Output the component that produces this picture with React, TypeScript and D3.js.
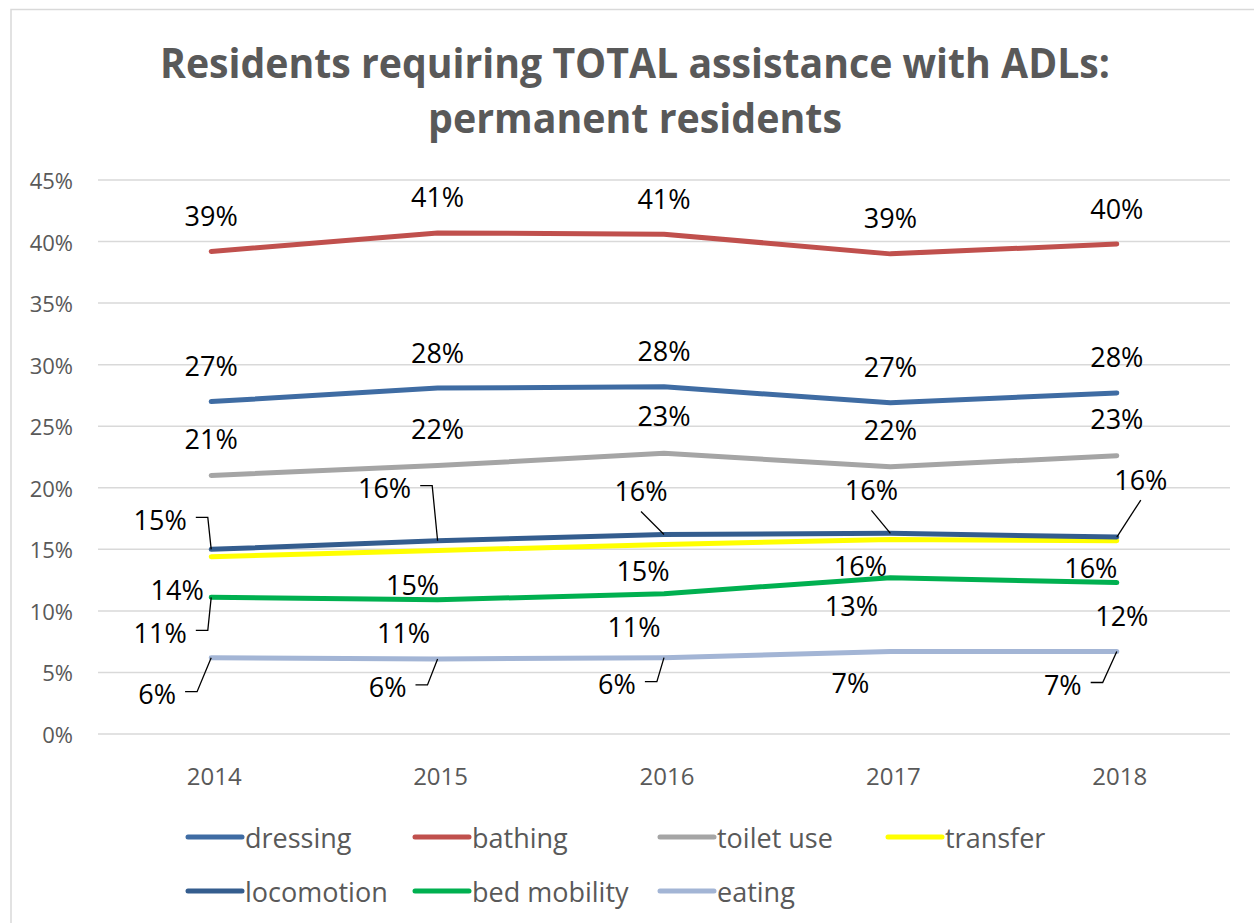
import React, { useEffect, useRef } from "react";
import * as d3 from "d3";

const years = ["2014", "2015", "2016", "2017", "2018"];
const dressing = [27.0, 28.1, 28.2, 26.9, 27.7];
const bathing = [39.2, 40.7, 40.6, 39.0, 39.8];
const toiletUse = [21.0, 21.8, 22.8, 21.7, 22.6];
const transfer = [14.4, 14.9, 15.4, 15.8, 15.7];
const locomotion = [15.0, 15.7, 16.2, 16.3, 16.0];
const bedMobility = [11.1, 10.9, 11.4, 12.7, 12.3];
const eating = [6.2, 6.1, 6.2, 6.7, 6.7];
const yTicks = [0, 5, 10, 15, 20, 25, 30, 35, 40, 45];
const titleLines = ["Residents requiring TOTAL assistance with ADLs:", "permanent residents"];

const series = [
  { name: "dressing", values: dressing, color: "#3F6CA3" },
  { name: "bathing", values: bathing, color: "#C0504D" },
  { name: "toilet use", values: toiletUse, color: "#A5A5A5" },
  { name: "transfer", values: transfer, color: "#FFFF00" },
  { name: "locomotion", values: locomotion, color: "#345D8E" },
  { name: "bed mobility", values: bedMobility, color: "#00B050" },
  { name: "eating", values: eating, color: "#A3B5D5" },
];

// label layout: [dx, dy, leaderType] relative to point (0 none, 1 elbow, 2 straight)
const labelLayout: Record<string, number[][]> = {
  dressing: [[0, -36, 0], [0, -36, 0], [0, -36, 0], [0, -36, 0], [0, -36, 0]],
  bathing: [[0, -36, 0], [0, -36, 0], [0, -36, 0], [0, -36, 0], [0, -36, 0]],
  "toilet use": [[0, -37, 0], [0, -37, 0], [0, -38, 0], [0, -37, 0], [0, -37, 0]],
  transfer: [[-34, 33, 0], [-25, 34, 0], [-21, 26, 0], [-30, 26, 0], [-26, 27, 0]],
  locomotion: [[-51, -30, 1], [-53, -53, 1], [-23, -44, 2], [-19, -44, 2], [24, -58, 2]],
  "bed mobility": [[-51, 35, 1], [-34, 33, 0], [-30, 33, 0], [-39, 28, 0], [5, 33, 0]],
  eating: [[-54, 36, 1], [-50, 28, 1], [-47, 26, 1], [-40, 31, 0], [-54, 33, 1]],
};

const legendCols = [188, 415, 660, 888];
const legendRows = [837, 891];

const W = 1254;
const H = 923;
const FONT = "'Open Sans', 'Noto Sans', sans-serif";

export default function App() {
  const ref = useRef<SVGSVGElement | null>(null);

  useEffect(() => {
    const svg = d3.select(ref.current);
    svg.selectAll("*").remove();

    svg.append("rect").attr("x", 0).attr("y", 0).attr("width", W).attr("height", H).attr("fill", "#fff");
    svg.append("rect").attr("x", 11).attr("y", 9.5).attr("width", W + 20).attr("height", H + 20)
      .attr("fill", "#fff").attr("stroke", "#D9D9D9").attr("stroke-width", 1.5);

    // title
    const titleY = [78, 133];
    const titleLen = [950, 414];
    titleLines.forEach((t, i) => {
      svg.append("text").attr("x", 635).attr("y", titleY[i]).attr("text-anchor", "middle")
        .attr("font-family", FONT).attr("font-weight", 700).attr("font-size", 42)
        .attr("fill", "#595959").attr("textLength", titleLen[i]).attr("lengthAdjust", "spacingAndGlyphs")
        .text(t);
    });

    const x = d3.scalePoint<string>().domain(years).range([98, 1230]).padding(0.5);
    const y = d3.scaleLinear().domain([0, 45]).range([734, 180]);

    // gridlines
    const g = svg.append("g");
    yTicks.forEach((t) => {
      g.append("line").attr("x1", 98).attr("x2", 1230).attr("y1", y(t)).attr("y2", y(t))
        .attr("stroke", "#D9D9D9").attr("stroke-width", 1.5);
      g.append("text").attr("x", 73).attr("y", y(t)).attr("text-anchor", "end")
        .attr("dominant-baseline", "central").attr("font-family", FONT).attr("font-size", 22)
        .attr("fill", "#595959").text(`${t}%`);
    });
    years.forEach((yr) => {
      g.append("text").attr("x", x(yr)! + 3).attr("y", 775).attr("text-anchor", "middle")
        .attr("dominant-baseline", "central").attr("font-family", FONT).attr("font-size", 24)
        .attr("fill", "#595959").text(yr);
    });

    // lines
    const line = d3.line<number>().x((_, i) => x(years[i])!).y((v) => y(v));
    series.forEach((s) => {
      svg.append("path").attr("d", line(s.values)!).attr("fill", "none").attr("stroke", s.color)
        .attr("stroke-width", 5).attr("stroke-linecap", "round").attr("stroke-linejoin", "round");
    });

    // labels
    const lg = svg.append("g");
    series.forEach((s) => {
      const lay = labelLayout[s.name];
      s.values.forEach((v, i) => {
        const px = x(years[i])!;
        const py = y(v);
        const [dx, dy, lt] = lay[i];
        const cx = px + dx;
        const cy = py + dy;
        const txt = lg.append("text").attr("x", cx).attr("y", cy).attr("text-anchor", "middle")
          .attr("dominant-baseline", "central").attr("font-family", FONT).attr("font-size", 27)
          .attr("fill", "#000").text(`${Math.round(v)}%`);
        const w = (txt.node() as SVGTextElement).getComputedTextLength();
        if (lt === 1) {
          const r = cx + w / 2;
          lg.append("path").attr("d", `M${r + 9},${cy - 2}H${r + 21}L${px},${py}`)
            .attr("fill", "none").attr("stroke", "#000").attr("stroke-width", 1.3);
        } else if (lt === 2) {
          lg.append("path").attr("d", `M${cx},${cy + 21}L${px},${py}`)
            .attr("fill", "none").attr("stroke", "#000").attr("stroke-width", 1.3);
        }
      });
    });

    // legend
    const leg = svg.append("g");
    series.forEach((s, i) => {
      const col = i < 4 ? i : i - 4;
      const row = i < 4 ? 0 : 1;
      const lx = legendCols[col];
      const ly = legendRows[row];
      leg.append("line").attr("x1", lx).attr("x2", lx + 54).attr("y1", ly).attr("y2", ly)
        .attr("stroke", s.color).attr("stroke-width", 5).attr("stroke-linecap", "round");
      leg.append("text").attr("x", lx + 57).attr("y", ly).attr("dominant-baseline", "central")
        .attr("font-family", FONT).attr("font-size", 27).attr("fill", "#595959").text(s.name);
    });
  }, []);

  return (
    <svg ref={ref} width={W} height={H} style={{ position: "absolute", left: 0, top: 0, display: "block" }} />
  );
}
